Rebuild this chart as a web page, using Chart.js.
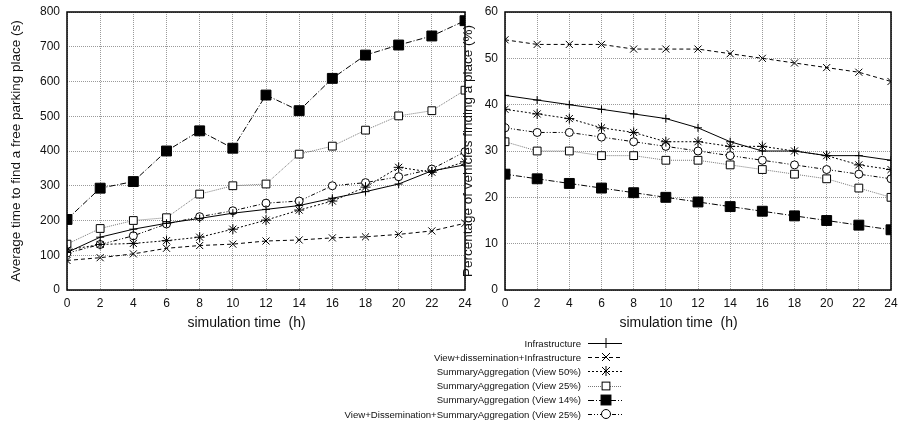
<!DOCTYPE html>
<html>
<head>
<meta charset="utf-8">
<script src="https://cdn.jsdelivr.net/npm/chart.js@4.4.1/dist/chart.umd.min.js"></script>
<style>
  body { margin: 0; background: #fff; width: 901px; height: 428px; overflow: hidden; position: relative; font-family: "Liberation Sans", Arial, sans-serif; }
  #timeWrap { position: absolute; left: 0; top: 0; width: 475px; height: 340px; }
  #pctWrap { position: absolute; left: 452px; top: 0; width: 449px; height: 340px; }
  .legend { position: absolute; right: 279px; top: 336px; }
  .legend-row { height: 14.2px; display: flex; align-items: center; justify-content: flex-end; }
  .legend-row span { font-size: 9.6px; color: #111; white-space: nowrap; margin-right: 7px; }
  .legend-row svg { display: block; }
</style>
</head>
<body>
<div id="timeWrap"><canvas id="timeChart"></canvas></div>
<div id="pctWrap"><canvas id="pctChart"></canvas></div>
<div class="legend" id="legend"></div>
<script>
// ======= DATA ==========
const hours = [0, 2, 4, 6, 8, 10, 12, 14, 16, 18, 20, 22, 24];

const seriesNames = [
  "Infrastructure",
  "View+dissemination+Infrastructure",
  "SummaryAggregation (View 50%)",
  "SummaryAggregation (View 25%)",
  "SummaryAggregation (View 14%)",
  "View+Dissemination+SummaryAggregation (View 25%)"
];

// average time to find a place (s)
const infraTime = [108, 152, 175, 192, 206, 221, 232, 243, 264, 283, 305, 343, 360];
const vdiTime   = [85, 93, 104, 120, 128, 132, 141, 144, 150, 153, 160, 170, 192];
const sa50Time  = [115, 131, 134, 142, 152, 175, 201, 230, 256, 296, 353, 339, 369];
const sa25Time  = [132, 177, 200, 208, 276, 300, 305, 391, 414, 460, 501, 516, 575];
const sa14Time  = [203, 293, 312, 400, 458, 408, 561, 516, 609, 676, 705, 731, 775];
const vdsaTime  = [106, 131, 156, 190, 211, 228, 250, 256, 300, 309, 326, 348, 398];

// percentage of vehicles finding a place (%)
const infraPct = [42, 41, 40, 39, 38, 37, 35, 32, 30, 30, 29, 29, 28];
const vdiPct   = [54, 53, 53, 53, 52, 52, 52, 51, 50, 49, 48, 47, 45];
const sa50Pct  = [39, 38, 37, 35, 34, 32, 32, 31, 31, 30, 29, 27, 26];
const sa25Pct  = [32, 30, 30, 29, 29, 28, 28, 27, 26, 25, 24, 22, 20];
const sa14Pct  = [25, 24, 23, 22, 21, 20, 19, 18, 17, 16, 15, 14, 13];
const vdsaPct  = [35, 34, 34, 33, 32, 31, 30, 29, 28, 27, 26, 25, 24];

const timeTicks = [0, 100, 200, 300, 400, 500, 600, 700, 800];
const pctTicks = [0, 10, 20, 30, 40, 50, 60];

// ======= STYLES ==========
const styles = [
  { color: "#000", dash: [], point: "cross", radius: 4, fill: "#000" },
  { color: "#000", dash: [4, 3], point: "crossRot", radius: 5, fill: "#000" },
  { color: "#000", dash: [2, 2], point: "star", radius: 5, fill: "#000" },
  { color: "#777", dash: [1, 1], point: "rect", radius: 5.5, fill: "#fff", pointColor: "#000" },
  { color: "#000", dash: [6, 2, 1, 2], point: "rect", radius: 7, fill: "#000" },
  { color: "#000", dash: [4, 2, 1, 2, 1, 2], point: "circle", radius: 4, fill: "#fff" }
];

function makeDatasets(lists) {
  return lists.map(function(values, i) {
    const s = styles[i];
    return {
      label: seriesNames[i],
      data: hours.map(function(h, k) { return { x: h, y: values[k] }; }),
      borderColor: s.color,
      borderWidth: 1,
      borderDash: s.dash,
      pointStyle: s.point,
      pointRadius: s.radius,
      pointHoverRadius: s.radius,
      pointBackgroundColor: s.fill,
      pointBorderColor: s.pointColor || s.color,
      pointBorderWidth: 1,
      tension: 0,
      fill: false
    };
  });
}

const frame = {
  id: "frame",
  afterDraw(chart) {
    const a = chart.chartArea;
    const ctx = chart.ctx;
    ctx.save();
    ctx.strokeStyle = "#000";
    ctx.lineWidth = 1.5;
    ctx.setLineDash([]);
    ctx.strokeRect(a.left, a.top, a.right - a.left, a.bottom - a.top);
    ctx.restore();
  }
};

function makeChart(id, lists, max, step, tickList, yTitle, yWidth) {
  return new Chart(document.getElementById(id), {
    type: "line",
    data: { datasets: makeDatasets(lists) },
    options: {
      responsive: true,
      maintainAspectRatio: false,
      animation: false,
      events: [],
      layout: { padding: { top: 12, right: 10, left: 0, bottom: 0 } },
      plugins: { legend: { display: false }, tooltip: { enabled: false } },
      scales: {
        x: {
          type: "linear",
          min: 0,
          max: 24,
          afterBuildTicks: function(scale) {
            scale.ticks = hours.map(function(v) { return { value: v }; });
          },
          afterFit: function(scale) {
            scale.height = 50;
            scale.paddingLeft = 0;
            scale.paddingRight = 0;
          },
          grid: { color: "#9a9a9a", lineWidth: 1, drawTicks: false },
          border: { display: false, dash: [1, 1] },
          ticks: { padding: 6, color: "#111", font: { family: "Liberation Sans", size: 12 }, maxRotation: 0 },
          title: {
            display: true,
            text: "simulation time  (h)\u00a0\u00a0\u00a0\u00a0\u00a0\u00a0\u00a0\u00a0\u00a0\u00a0",
            color: "#111",
            font: { family: "Liberation Sans", size: 14 },
            padding: { top: 0, bottom: 8 }
          }
        },
        y: {
          min: 0,
          max: max,
          afterBuildTicks: function(scale) {
            scale.ticks = tickList.map(function(v) { return { value: v }; });
          },
          afterFit: function(scale) {
            scale.width = yWidth;
            scale.paddingTop = 0;
            scale.paddingBottom = 0;
          },
          grid: { color: "#9a9a9a", lineWidth: 1, drawTicks: false },
          border: { display: false, dash: [1, 1] },
          ticks: { padding: 7, color: "#111", font: { family: "Liberation Sans", size: 12 } },
          title: {
            display: true,
            text: yTitle,
            color: "#111",
            font: { family: "Liberation Sans", size: 13.5 },
            padding: { top: 8, bottom: 0 }
          }
        }
      }
    },
    plugins: [frame]
  });
}

makeChart("timeChart", [infraTime, vdiTime, sa50Time, sa25Time, sa14Time, vdsaTime],
  800, 100, timeTicks, "Average time to find a free parking place (s)", 67);
makeChart("pctChart", [infraPct, vdiPct, sa50Pct, sa25Pct, sa14Pct, vdsaPct],
  60, 10, pctTicks, "Percentage of vehicles finding a place (%)", 53);

// ======= LEGEND ==========
function markerSvg(i) {
  const s = styles[i];
  const c = 18;
  const m = 7;
  if (s.point === "cross") return '<path d="M' + c + ' ' + (m - 5) + 'V' + (m + 5) + '" stroke="#000" stroke-width="1"/>';
  if (s.point === "crossRot") return '<path d="M' + (c - 4) + ' ' + (m - 4) + 'L' + (c + 4) + ' ' + (m + 4) + 'M' + (c + 4) + ' ' + (m - 4) + 'L' + (c - 4) + ' ' + (m + 4) + '" stroke="#000"/>';
  if (s.point === "star") return '<path d="M' + (c - 4) + ' ' + (m - 4) + 'L' + (c + 4) + ' ' + (m + 4) + 'M' + (c + 4) + ' ' + (m - 4) + 'L' + (c - 4) + ' ' + (m + 4) + 'M' + c + ' ' + (m - 5) + 'V' + (m + 5) + '" stroke="#000"/>';
  if (s.point === "rect") {
    const h = s.radius * Math.SQRT1_2;
    return '<rect x="' + (c - h) + '" y="' + (m - h) + '" width="' + (2 * h) + '" height="' + (2 * h) + '" fill="' + s.fill + '" stroke="#000"/>';
  }
  return '<circle cx="' + c + '" cy="' + m + '" r="4.5" fill="#fff" stroke="#000"/>';
}

const legend = document.getElementById("legend");
seriesNames.forEach(function(name, i) {
  const s = styles[i];
  const row = document.createElement("div");
  row.className = "legend-row";
  row.innerHTML = "<span>" + name + "</span>" +
    '<svg width="34" height="14"><line x1="0" y1="7.5" x2="34" y2="7.5" stroke="' + s.color +
    '" stroke-width="1" stroke-dasharray="' + (s.dash.length ? s.dash.join(" ") : "none") + '"/>' +
    markerSvg(i) + "</svg>";
  legend.appendChild(row);
});
</script>
</body>
</html>
